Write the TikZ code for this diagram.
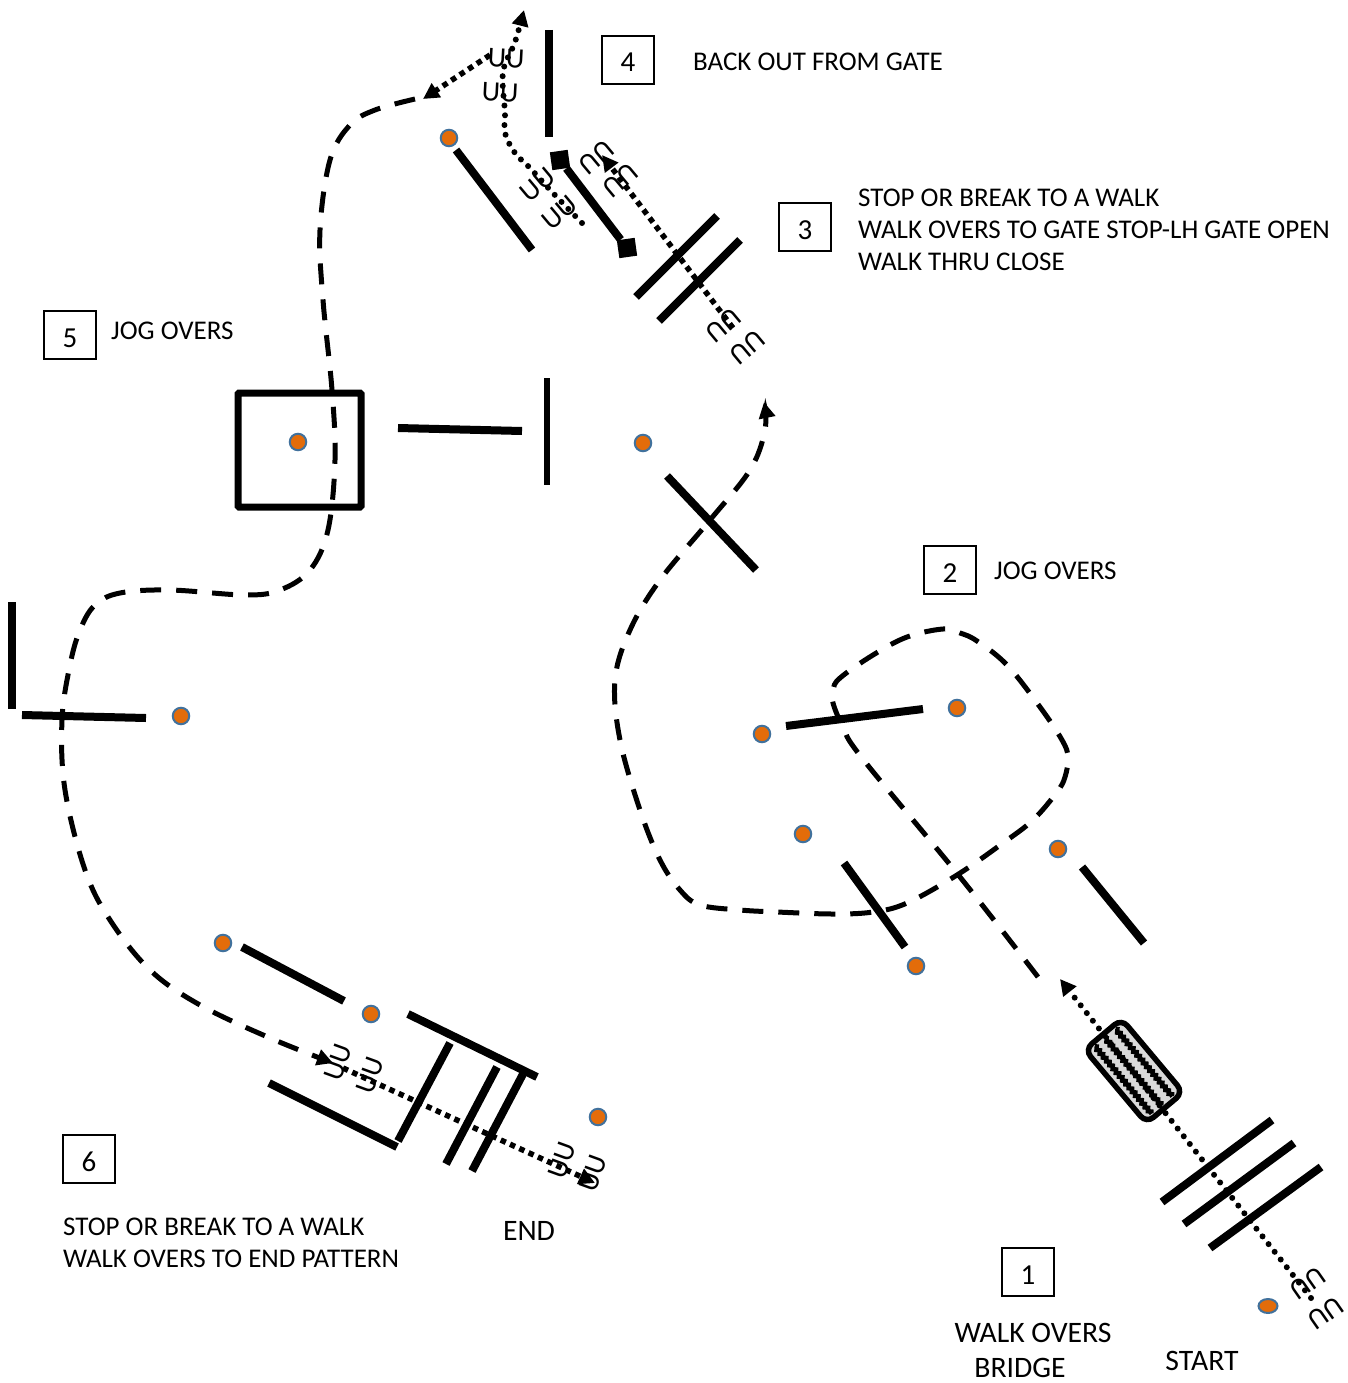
\documentclass[tikz,border=0pt]{standalone}
\usepackage{fontspec}
\setmainfont{Carlito}
\usetikzlibrary{arrows.meta}
\usetikzlibrary{decorations.pathmorphing}
\usetikzlibrary{shapes.geometric}
\definecolor{coneorange}{HTML}{E36C0A}
\definecolor{coneblue}{HTML}{41719C}
\definecolor{bridgegray}{HTML}{D9D9D9}
\begin{document}
\begin{tikzpicture}[x=1pt,y=-1pt,
			cone/.style={circle,draw=coneblue,fill=coneorange,line width=2pt,minimum size=16.5pt,inner sep=0pt},
			pole/.style={line width=8pt},
			numbox/.style={rectangle,draw=black,line width=2pt,minimum width=52pt,minimum height=48pt,inner sep=0pt,text height=24pt,text depth=0pt,font=\fontsize{29}{32}\selectfont},
			txt/.style={anchor=west,align=left,inner sep=0pt,font=\fontsize{27}{32}\selectfont},
			bigtxt/.style={inner sep=0pt,font=\fontsize{29.7}{32}\selectfont},
			hoof/.style={inner sep=0pt,font=\fontsize{28.5}{30}\selectfont},
			jog/.style={line width=5pt,dash pattern=on 21pt off 15pt},
			walk/.style={line width=5.5pt,dash pattern=on 5.5pt off 4.7pt},
			rdots/.style={line width=6pt,line cap=round,dash pattern=on 0pt off 9.8pt},
			gatecap/.style={rectangle,fill=black,minimum size=18pt,inner sep=0pt},
			tip/.style={-{Triangle[length=16pt,width=16pt]}},
			]
			
			\useasboundingbox (0,0) rectangle (1348,1383);
			
			%poles
			\draw[pole] (1272,1120)--(1162,1202);
			\draw[pole] (1294,1143)--(1184,1224);
			\draw[pole] (1321,1167)--(1210,1248);
			\draw[pole] (1082,867)--(1144,943);
			\draw[pole] (844,863)--(905,947);
			\draw[pole] (786,726)--(923,709);
			\draw[pole] (667,476)--(756,570);
			\draw[pole,line width=6.5pt] (547,378)--(547,485);
			\draw[pole] (398,428)--(522,431);
			\draw[pole] (717,216)--(636,297);
			\draw[pole] (740,240)--(659,321);
			\draw[pole] (456,150)--(532,250);
			\draw[pole] (549,30)--(549,137);
			\draw[pole] (12,602)--(12,709);
			\draw[pole] (22,715)--(146,718);
			\draw[pole] (242,947)--(344,1001);
			\draw[pole] (408,1014)--(537,1077);
			\draw[pole] (450,1043)--(398,1141);
			\draw[pole] (269,1083)--(397,1147);
			\draw[pole] (497,1067)--(446,1164);
			\draw[pole] (523,1074)--(472,1171);
			
			%jump
			\draw[line width=7pt,rounded corners=1pt] (238,393) rectangle (361,507);
			
			%bridge
			\node[rectangle,rounded corners=9pt,draw=black,fill=bridgegray,line width=5.5pt,minimum width=96pt,minimum height=48pt,rotate=-50] (Bridge) at (1134,1071) {};
			\begin{scope}[shift={(1134,1071)},rotate=-50,decoration={zigzag,segment length=5pt,amplitude=1.2pt}]
				\foreach \y in {-13,1,14}
				{
					\draw[line width=4.5pt,decorate] (-44,\y)--(44,\y);
				}
			\end{scope}
			
			%jog overs
			\draw[jog,tip] plot[smooth,tension=0.6] coordinates {(1038,977) (960,877) (862,758) (843,727) (833,703) (833,690) (840,678) (873,655) (907,637) (943,629) (960,633) (977,641) (1007,665) (1040,707) (1062,740) (1068,757) (1065,777) (1057,792) (1033,820) (1003,843) (957,875) (907,903) (873,912) (833,914) (777,912) (740,910) (700,905) (680,890) (660,860) (640,810) (620,740) (615,680) (630,630) (660,580) (710,520) (750,470) (765,430) (764,402)};
			\draw[jog,tip] plot[smooth,tension=0.6] coordinates {(415,99) (375,110) (350,125) (330,160) (320,230) (323,300) (332,390) (335,460) (328,530) (310,570) (280,590) (245,595) (170,590) (120,593) (95,605) (80,630) (70,665) (62,720) (65,790) (85,870) (110,920) (150,970) (200,1005) (270,1038) (333,1063)};
			
			%walk overs
			\draw[rdots,tip] (1311,1298)--(1060,979);
			\draw[walk,tip] (733,328)--(602,155);
			\draw[rdots,tip] plot[smooth,tension=0.6] coordinates {(582,223) (552,192) (530,168) (515,153) (505,133) (505,113) (503,72) (515,42) (524,10)};
			\draw[walk,tip] (490,55)--(423,99);
			\draw[walk,tip] (343,1068)--(595,1183);
			
			%back up line
			\node[gatecap,rotate=8] (CapA) at (560,160) {};
			\node[gatecap,rotate=8] (CapB) at (627,248) {};
			\draw[pole] (CapA)--(CapB);
			
			%hoof prints
			\node[hoof,rotate=215] (HoofA) at (1308,1283) {UU};
			\node[hoof,rotate=215] (HoofB) at (1326,1313) {UU};
			\node[hoof,rotate=220] (HoofC) at (596,157) {UU};
			\node[hoof,rotate=220] (HoofD) at (620,180) {UU};
			\node[hoof,rotate=220] (HoofE) at (723,325) {UU};
			\node[hoof,rotate=220] (HoofF) at (747,347) {UU};
			\node[hoof,rotate=40] (HoofG) at (538,185) {UU};
			\node[hoof,rotate=40] (HoofH) at (560,213) {UU};
			\node[hoof,rotate=-3] (HoofI) at (506,58) {UU};
			\node[hoof,rotate=-3] (HoofJ) at (500,92) {UU};
			\node[hoof,rotate=70] (HoofK) at (338,1062) {UU};
			\node[hoof,rotate=70] (HoofL) at (370,1075) {UU};
			\node[hoof,rotate=70] (HoofM) at (562,1160) {UU};
			\node[hoof,rotate=70] (HoofN) at (593,1173) {UU};
			
			%cones
			\foreach \n/\x/\y in {a/449/138,b/298/442,c/643/443,d/181/716,e/223/943,f/371/1014,g/598/1117,h/762/734,i/957/708,j/803/834,k/1058/849,l/916/966}
			{
				\node[cone] (Cone\n) at (\x,\y) {};
			}
			\node[cone,ellipse,minimum width=19pt,minimum height=14pt] (Conem) at (1268,1306) {};
			
			%number boxes
			\node[numbox] (One) at (1028,1272) {1};
			\node[numbox] (Two) at (950,570) {2};
			\node[numbox] (Three) at (805,227) {3};
			\node[numbox] (Four) at (628,60) {4};
			\node[numbox] (Five) at (70,335) {5};
			\node[numbox] (Six) at (89,1159) {6};
			
			%labels
			\node[txt] (BackOut) at (693,62) {BACK OUT FROM GATE};
			\node[txt] (GateText) at (858,230) {STOP OR BREAK TO A WALK\\WALK OVERS TO GATE STOP-LH GATE OPEN\\WALK THRU CLOSE};
			\node[txt] (JogA) at (994,571) {JOG OVERS};
			\node[txt] (JogB) at (111,331) {JOG OVERS};
			\node[txt] (EndText) at (63,1243) {STOP OR BREAK TO A WALK\\WALK OVERS TO END PATTERN};
			\node[bigtxt] (End) at (529,1231) {END};
			\node[bigtxt] (WalkText) at (1033,1333) {WALK OVERS};
			\node[bigtxt] (BridgeText) at (1020,1368) {BRIDGE};
			\node[bigtxt] (Start) at (1202,1361) {START};
			
	\end{tikzpicture}
\end{document}
